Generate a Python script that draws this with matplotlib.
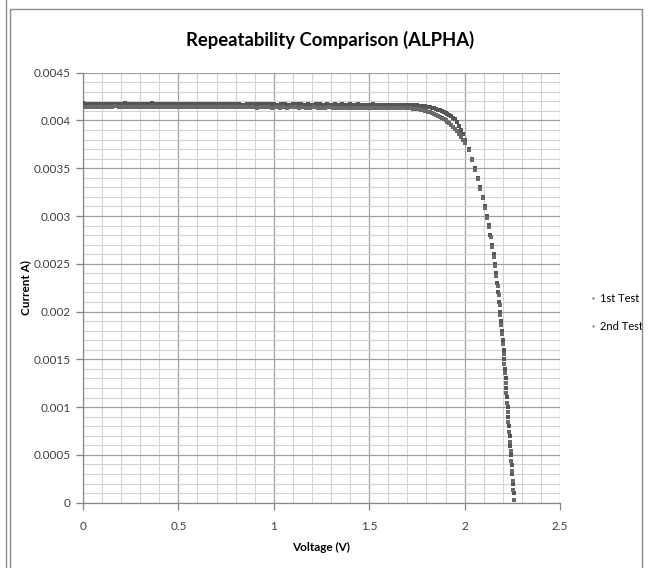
import matplotlib
matplotlib.use("Agg")
import matplotlib.pyplot as plt
from matplotlib.ticker import MultipleLocator, FuncFormatter
from matplotlib.lines import Line2D
from matplotlib.patches import Rectangle

# ---- 1st test: voltage (V) / current (A) ----
volt1 = [
    0.00, 0.02, 0.04, 0.06, 0.08, 0.10, 0.12, 0.14, 0.16, 0.18,
    0.20, 0.22, 0.24, 0.26, 0.28, 0.30, 0.32, 0.34, 0.36, 0.38,
    0.40, 0.42, 0.44, 0.46, 0.48, 0.50, 0.52, 0.54, 0.56, 0.58,
    0.60, 0.62, 0.64, 0.66, 0.68, 0.70, 0.72, 0.74, 0.76, 0.78,
    0.80, 0.82, 0.84, 0.86, 0.88, 0.90, 0.92, 0.94, 0.96, 0.98,
    1.00, 1.02, 1.04, 1.06, 1.08, 1.10, 1.12, 1.14, 1.16, 1.18,
    1.20, 1.22, 1.24, 1.26, 1.28, 1.30, 1.32, 1.34, 1.36, 1.38,
    1.40, 1.42, 1.44, 1.46, 1.48, 1.50, 1.52, 1.54, 1.56, 1.58,
    1.60, 1.62, 1.64, 1.66, 1.68, 1.70,
    1.71, 1.72, 1.73, 1.74, 1.75, 1.76, 1.77, 1.78, 1.79, 1.80,
    1.81, 1.82, 1.83, 1.84, 1.85, 1.86, 1.87, 1.88, 1.89, 1.90,
    1.91, 1.92, 1.93, 1.94, 1.95, 1.96, 1.97, 1.98, 1.99, 2.00,
    2.021, 2.039, 2.056, 2.070, 2.082, 2.094, 2.105, 2.116, 2.126, 2.135,
    2.144, 2.152, 2.160, 2.166, 2.172, 2.177, 2.182, 2.187, 2.192, 2.196,
    2.200, 2.204, 2.207, 2.211, 2.215, 2.218, 2.222, 2.226, 2.229, 2.233,
    2.236, 2.240, 2.243, 2.247, 2.251, 2.254, 2.258,
]
test1 = [
    0.004178, 0.004175, 0.004177, 0.004174, 0.004176, 0.004173, 0.004177, 0.004175, 0.004172, 0.004176,
    0.004174, 0.004178, 0.004171, 0.004175, 0.004177, 0.004173, 0.004176, 0.004172, 0.004179, 0.004174,
    0.004171, 0.004175, 0.004173, 0.004170, 0.004176, 0.004172, 0.004174, 0.004169, 0.004173, 0.004171,
    0.004174, 0.004170, 0.004172, 0.004168, 0.004173, 0.004171, 0.004169, 0.004172, 0.004170, 0.004173,
    0.004169, 0.004171, 0.004167, 0.004172, 0.004170, 0.004168, 0.004171, 0.004169, 0.004172, 0.004168,
    0.004170, 0.004167, 0.004171, 0.004169, 0.004166, 0.004170, 0.004168, 0.004171, 0.004167, 0.004169,
    0.004166, 0.004170, 0.004168, 0.004165, 0.004169, 0.004167, 0.004170, 0.004166, 0.004168, 0.004165,
    0.004168, 0.004166, 0.004169, 0.004165, 0.004167, 0.004164, 0.004168, 0.004166, 0.004163, 0.004167,
    0.004165, 0.004163, 0.004166, 0.004162, 0.004164, 0.004161,
    0.004162, 0.004161, 0.004160, 0.004158, 0.004157, 0.004155, 0.004153, 0.004150, 0.004147, 0.004144,
    0.004140, 0.004136, 0.004131, 0.004126, 0.004120, 0.004113, 0.004105, 0.004097, 0.004088, 0.004078,
    0.004067, 0.004055, 0.004042, 0.004028, 0.004013, 0.003981, 0.003944, 0.003902, 0.003854, 0.003800,
    0.003702, 0.003601, 0.003498, 0.003400, 0.003302, 0.003199, 0.003101, 0.003000, 0.002902, 0.002799,
    0.002701, 0.002598, 0.002502, 0.002400, 0.002297, 0.002201, 0.002099, 0.002000, 0.001902, 0.001798,
    0.001701, 0.001599, 0.001502, 0.001398, 0.001301, 0.001199, 0.001102, 0.000998, 0.000901, 0.000799,
    0.000702, 0.000598, 0.000501, 0.000399, 0.000302, 0.000198, 0.000101,
]

# ---- 2nd test: voltage (V) / current (A) ----
volt2 = [
    0.01, 0.03, 0.05, 0.07, 0.09, 0.11, 0.13, 0.15, 0.17, 0.19,
    0.21, 0.23, 0.25, 0.27, 0.29, 0.31, 0.33, 0.35, 0.37, 0.39,
    0.41, 0.43, 0.45, 0.47, 0.49, 0.51, 0.53, 0.55, 0.57, 0.59,
    0.61, 0.63, 0.65, 0.67, 0.69, 0.71, 0.73, 0.75, 0.77, 0.79,
    0.81, 0.83, 0.85, 0.87, 0.89, 0.91, 0.93, 0.95, 0.97, 0.99,
    1.01, 1.03, 1.05, 1.07, 1.09, 1.11, 1.13, 1.15, 1.17, 1.19,
    1.21, 1.23, 1.25, 1.27, 1.29, 1.31, 1.33, 1.35, 1.37, 1.39,
    1.41, 1.43, 1.45, 1.47, 1.49, 1.51, 1.53, 1.55, 1.57, 1.59,
    1.61, 1.63, 1.65, 1.67, 1.69, 1.70,
    1.71, 1.72, 1.73, 1.74, 1.75, 1.76, 1.77, 1.78, 1.79, 1.80,
    1.81, 1.82, 1.83, 1.84, 1.85, 1.86, 1.87, 1.88, 1.89, 1.90,
    1.91, 1.92, 1.93, 1.94, 1.95, 1.96, 1.97, 1.98, 1.99, 2.00,
    2.022, 2.040, 2.057, 2.071, 2.083, 2.095, 2.106, 2.117, 2.127, 2.136,
    2.145, 2.153, 2.161, 2.167, 2.173, 2.178, 2.183, 2.188, 2.193, 2.197,
    2.201, 2.205, 2.208, 2.212, 2.216, 2.219, 2.223, 2.227, 2.230, 2.234,
    2.237, 2.241, 2.244, 2.248, 2.252, 2.255, 2.259,
]
test2 = [
    0.004142, 0.004145, 0.004139, 0.004143, 0.004146, 0.004140, 0.004144, 0.004141, 0.004147, 0.004142,
    0.004139, 0.004144, 0.004141, 0.004146, 0.004140, 0.004143, 0.004138, 0.004145, 0.004141, 0.004139,
    0.004143, 0.004140, 0.004144, 0.004138, 0.004142, 0.004139, 0.004143, 0.004140, 0.004137, 0.004141,
    0.004139, 0.004142, 0.004137, 0.004141, 0.004138, 0.004140, 0.004136, 0.004141, 0.004139, 0.004137,
    0.004140, 0.004136, 0.004139, 0.004137, 0.004140, 0.004135, 0.004138, 0.004136, 0.004139, 0.004135,
    0.004138, 0.004135, 0.004137, 0.004134, 0.004138, 0.004136, 0.004133, 0.004137, 0.004135, 0.004134,
    0.004136, 0.004133, 0.004135, 0.004132, 0.004136, 0.004134, 0.004131, 0.004135, 0.004133, 0.004132,
    0.004134, 0.004131, 0.004133, 0.004130, 0.004133, 0.004131, 0.004132, 0.004129, 0.004131, 0.004130,
    0.004131, 0.004129, 0.004130, 0.004128, 0.004130, 0.004129,
    0.004128, 0.004126, 0.004124, 0.004121, 0.004118, 0.004115, 0.004111, 0.004107, 0.004102, 0.004097,
    0.004091, 0.004085, 0.004078, 0.004070, 0.004061, 0.004051, 0.004040, 0.004028, 0.004015, 0.004001,
    0.003986, 0.003970, 0.003953, 0.003934, 0.003913, 0.003889, 0.003862, 0.003832, 0.003798, 0.003760,
    0.003688, 0.003587, 0.003485, 0.003386, 0.003286, 0.003184, 0.003083, 0.002981, 0.002880, 0.002778,
    0.002677, 0.002575, 0.002474, 0.002372, 0.002270, 0.002169, 0.002066, 0.001965, 0.001863, 0.001761,
    0.001659, 0.001557, 0.001455, 0.001353, 0.001251, 0.001148, 0.001046, 0.000944, 0.000842, 0.000740,
    0.000638, 0.000536, 0.000434, 0.000332, 0.000230, 0.000128, 0.000030,
]

series_names = ["1st Test", "2nd Test"]

plt.rcParams["font.family"] = ["Lato", "DejaVu Sans"]

W, H = 648, 568
fig = plt.figure(figsize=(W / 100, H / 100), dpi=100)
fig.patch.set_facecolor("white")

# chart frame like the spreadsheet export
fig.add_artist(Line2D([6 / W, 6 / W], [0, 1], transform=fig.transFigure,
                      color="#8c8c8c", lw=1.0))
fig.add_artist(Rectangle((10 / W, -0.01), (642 - 10) / W, 1 - 9 / H + 0.01,
                         transform=fig.transFigure, fill=False,
                         edgecolor="#8c8c8c", lw=1.0))

ax = fig.add_axes([83 / W, (H - 502.7) / H, (560 - 83) / W, (502.7 - 72.7) / H])

ax.plot(volt1, test1, linestyle="none", marker="s", markersize=2.2,
        color="#555555", markeredgewidth=0, label=series_names[0], zorder=3)
ax.plot(volt2, test2, linestyle="none", marker="s", markersize=2.2,
        color="#6a6a6a", markeredgewidth=0, label=series_names[1], zorder=3)

ax.set_xlim(0, 2.5)
ax.set_ylim(0, 0.0045)
ax.xaxis.set_major_locator(MultipleLocator(0.5))
ax.xaxis.set_minor_locator(MultipleLocator(0.1))
ax.yaxis.set_major_locator(MultipleLocator(0.0005))
ax.yaxis.set_minor_locator(MultipleLocator(0.0001))
fmt = FuncFormatter(lambda v, p: "{:g}".format(round(v, 6)))
ax.xaxis.set_major_formatter(fmt)
ax.yaxis.set_major_formatter(fmt)

ax.grid(which="major", color="#a0a0a0", lw=0.9)
ax.grid(which="minor", color="#d2d2d2", lw=0.8)
ax.set_axisbelow(True)

for s in ["top", "right"]:
    ax.spines[s].set_visible(False)
for s in ["left", "bottom"]:
    ax.spines[s].set_color("#868686")
    ax.spines[s].set_linewidth(0.9)

ax.tick_params(which="major", direction="out", length=5, width=0.9,
               color="#868686", labelsize=8.5, labelcolor="#404040")
ax.tick_params(which="minor", length=0)
ax.tick_params(axis="x", pad=8)
ax.tick_params(axis="y", pad=4)

ax.set_xlabel("Voltage (V)", fontsize=8.5, fontweight="bold")
ax.set_ylabel("Current A)", fontsize=8.5, fontweight="bold")
ax.xaxis.set_label_coords(0.5, (502.7 - 542) / 430)
ax.yaxis.set_label_coords((31 - 83) / 477, 0.5)

fig.text(330 / W, 1 - 40 / H, "Repeatability Comparison (ALPHA)",
         ha="center", va="center", fontsize=13.3, fontweight="bold")

ax.legend(loc="center left", bbox_to_anchor=(590 / W, (H - 312.5) / H),
          bbox_transform=fig.transFigure, frameon=False, fontsize=8,
          handlelength=0.5, handletextpad=0.4, labelspacing=1.6,
          borderpad=0, borderaxespad=0, markerscale=0.6)

fig.savefig("out.png", dpi=100, facecolor="white")
